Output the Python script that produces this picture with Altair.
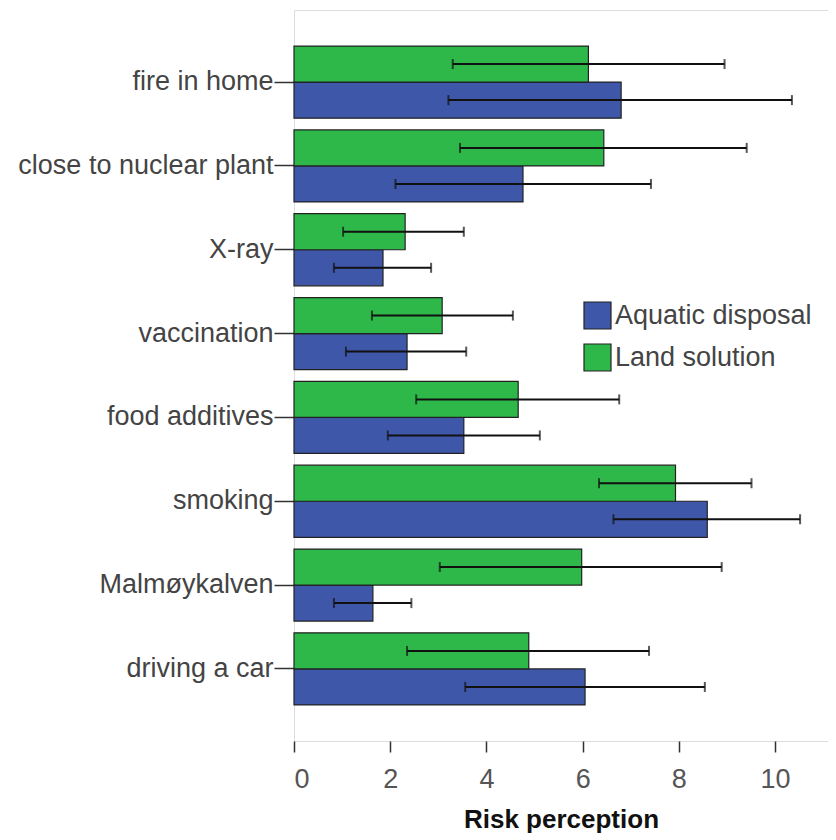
import altair as alt
import pandas as pd

categories = ["fire in home", "close to nuclear plant", "X-ray", "vaccination",
              "food additives", "smoking", "Malmøykalven", "driving a car"]
groups = ["Aquatic disposal", "Land solution"]

aquatic_mean = [6.80, 4.76, 1.85, 2.35, 3.53, 8.59, 1.64, 6.05]
aquatic_lo = [3.21, 2.11, 0.83, 1.08, 1.95, 6.64, 0.83, 3.56]
aquatic_hi = [10.35, 7.42, 2.85, 3.58, 5.11, 10.52, 2.44, 8.54]

land_mean = [6.12, 6.44, 2.31, 3.08, 4.66, 7.93, 5.98, 4.88]
land_lo = [3.30, 3.45, 1.02, 1.62, 2.54, 6.34, 3.03, 2.35]
land_hi = [8.95, 9.41, 3.53, 4.55, 6.76, 9.51, 8.89, 7.38]

rows = []
for i, c in enumerate(categories):
    rows.append(dict(cat=c, grp=groups[0], mean=aquatic_mean[i], lo=aquatic_lo[i], hi=aquatic_hi[i]))
    rows.append(dict(cat=c, grp=groups[1], mean=land_mean[i], lo=land_lo[i], hi=land_hi[i]))
df = pd.DataFrame(rows)

FONT = "Liberation Sans"

y_enc = alt.Y("cat:N", sort=categories,
              scale=alt.Scale(paddingInner=0.14, paddingOuter=0.43),
              axis=alt.Axis(title=None, domain=False, ticks=True, tickSize=20,
                            tickColor="#333333", tickWidth=1.5, labelPadding=1,
                            labelFontSize=27, labelColor="#444444", labelFont=FONT,
                            labelLimit=400))
yoff = alt.YOffset("grp:N", sort=["Land solution", "Aquatic disposal"],
                   scale=alt.Scale(paddingInner=0, paddingOuter=0))
x_scale = alt.Scale(domain=[0, 11.1], nice=False, zero=True)

bars = alt.Chart(df).mark_bar(stroke="#222222", strokeWidth=1.2, opacity=1).encode(
    x=alt.X("mean:Q", scale=x_scale,
            axis=alt.Axis(title="Risk perception", values=[0, 2, 4, 6, 8, 10],
                          grid=False, domain=False, tickSize=11, tickColor="#333333",
                          tickWidth=1.5, labelPadding=14, labelFontSize=27,
                          labelColor="#555555", labelFont=FONT,
                          titleFont=FONT, titleFontSize=26, titleFontWeight="bold",
                          titleColor="#111111", titlePadding=14)),
    y=y_enc,
    yOffset=yoff,
    color=alt.Color("grp:N",
                    scale=alt.Scale(domain=groups, range=["#3F57A9", "#2EB84A"]),
                    legend=alt.Legend(title=None, orient="none", legendX=289, legendY=291,
                                      symbolType="square", symbolSize=729,
                                      symbolStrokeColor="#222222", symbolStrokeWidth=1.2,
                                      labelFontSize=27, labelFont=FONT, labelColor="#444444",
                                      labelOffset=3, rowPadding=9, padding=0,
                                      labelLimit=400, symbolOffset=0)),
)

rules = alt.Chart(df).mark_rule(color="#111111", strokeWidth=2).encode(
    x=alt.X("lo:Q", scale=x_scale),
    x2="hi:Q",
    y=alt.Y("cat:N", sort=categories),
    yOffset=yoff,
)

caps_lo = alt.Chart(df).mark_tick(color="#111111", thickness=2, size=10).encode(
    x=alt.X("lo:Q", scale=x_scale),
    y=alt.Y("cat:N", sort=categories),
    yOffset=yoff,
)
caps_hi = alt.Chart(df).mark_tick(color="#111111", thickness=2, size=10).encode(
    x=alt.X("hi:Q", scale=x_scale),
    y=alt.Y("cat:N", sort=categories),
    yOffset=yoff,
)

chart = alt.layer(bars, rules, caps_lo, caps_hi).properties(
    width=534, height=731,
    autosize=alt.AutoSizeParams(type="none"),
    padding={"left": 286, "top": 2, "right": 0, "bottom": 110},
).configure_view(
    fill="#F0F0F0", stroke="#555555", strokeWidth=1.5
).configure(background="white")

chart.save("out.html", embed_options={"renderer": "svg", "actions": False})
